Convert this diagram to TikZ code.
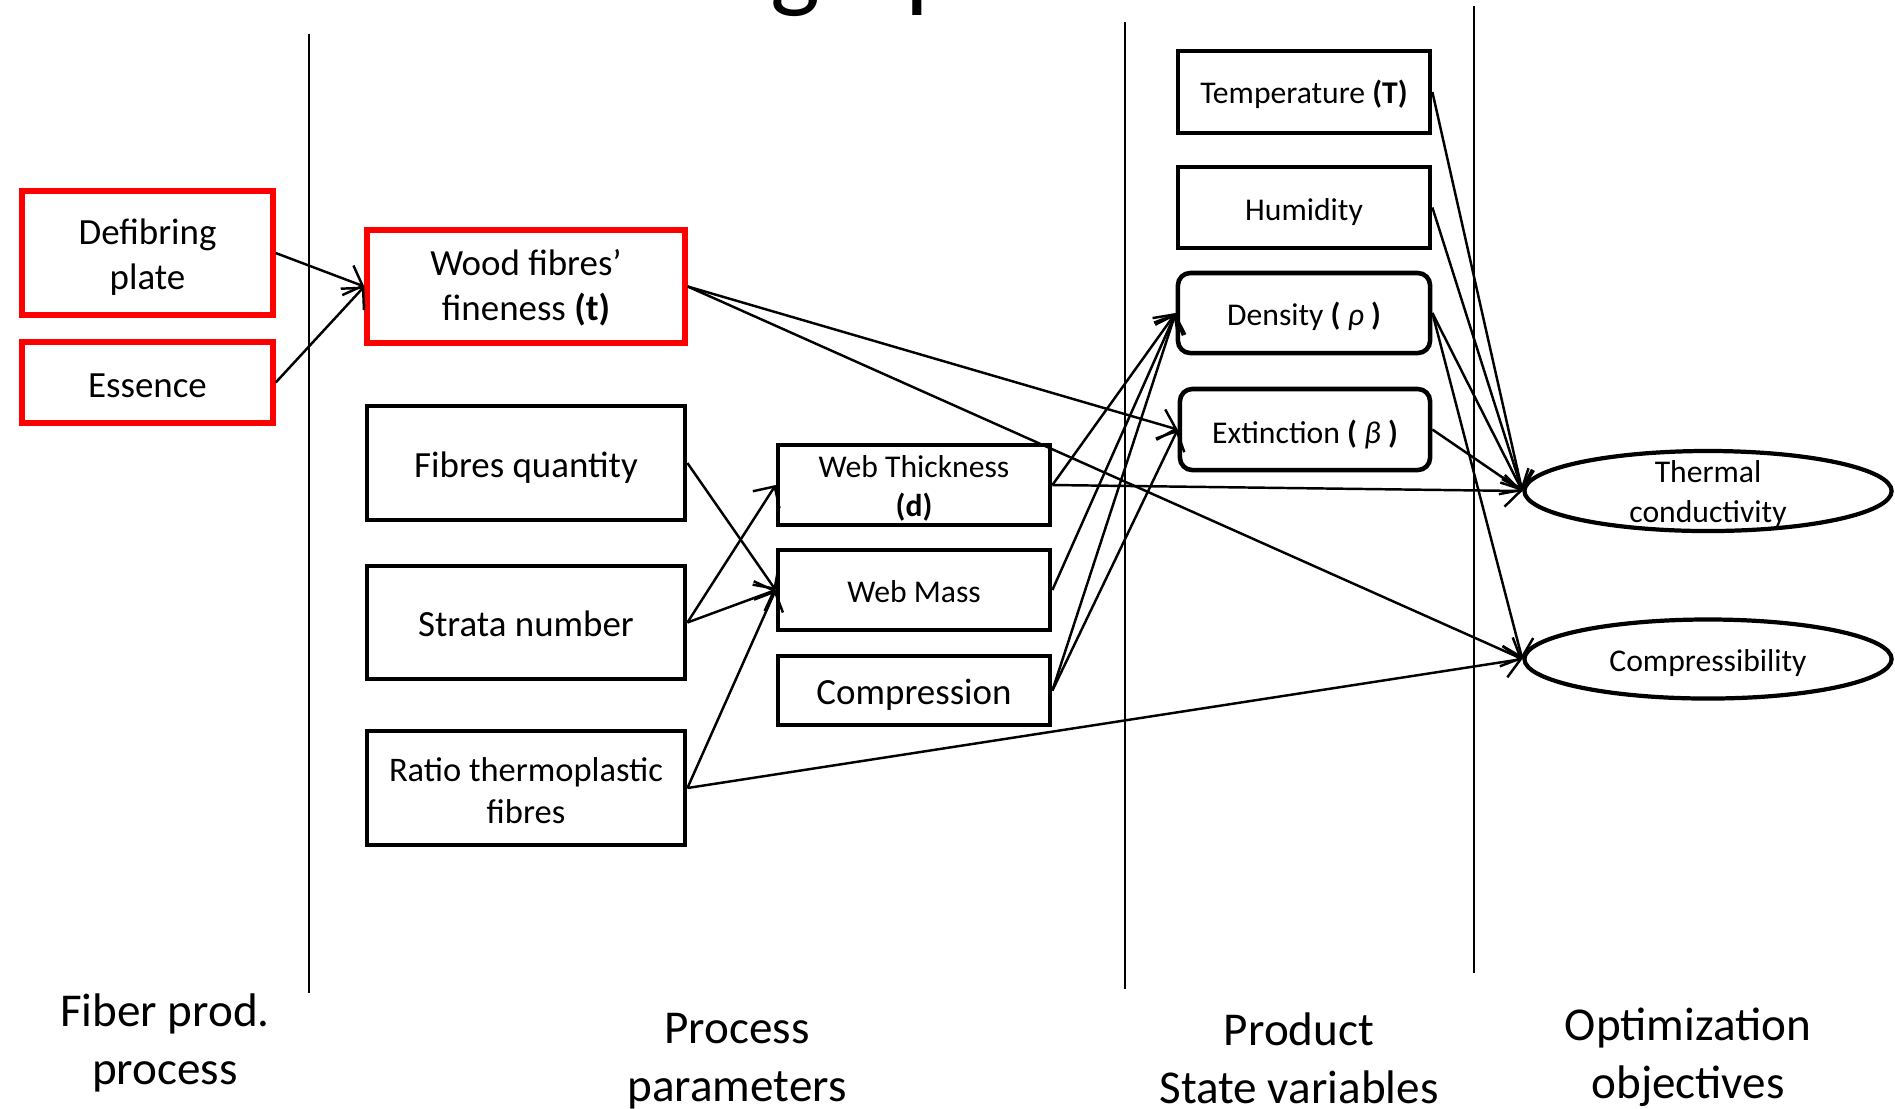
\documentclass[tikz,border=0pt]{standalone}
\usepackage{fontspec}
\setmainfont{Carlito}
\usetikzlibrary{arrows.meta,shapes.geometric}
\newcommand{\lowtxt}[2][1pt]{\raisebox{-#1}[\height][\depth]{\begin{tabular}{@{}c@{}}#2\end{tabular}}}
\tikzset{
  box/.style={draw, line width=1.3pt, inner sep=0pt, align=center, font=\fontsize{9}{11}\selectfont},
  bigbox/.style={box, font=\fontsize{10.5}{12.8}\selectfont},
  redbox/.style={bigbox, draw=red, line width=1.5pt},
  rbox/.style={box, rounded corners=3.5pt},
  oval/.style={ellipse, draw, line width=1.2pt, inner sep=-2.5mm, align=center, font=\fontsize{9}{11.2}\selectfont},
  arr/.style={-{Straight Barb[length=4.5pt,width=9pt]}, line width=0.7pt},
  sepline/.style={line width=0.5pt},
  lbl/.style={align=center, inner sep=0pt, font=\fontsize{13.4}{16.5}\selectfont}
}
\begin{document}
\begin{tikzpicture}[x=0.01cm,y=-0.01cm]
\useasboundingbox (0,0) rectangle (1895,1108);
\begin{scope}
\clip (0,0) rectangle (1895,1108);
\node[anchor=base west, inner sep=0pt, font=\fontsize{30}{36}\selectfont] (title) at (770,-2) {graph};
\end{scope}

% separators
\coordinate (s1a) at (309,34);  \coordinate (s1b) at (309,993);
\coordinate (s2a) at (1125,22); \coordinate (s2b) at (1125,989);
\coordinate (s3a) at (1474,6);  \coordinate (s3b) at (1474,973);
\draw[sepline] (s1a) -- (s1b);
\draw[sepline] (s2a) -- (s2b);
\draw[sepline] (s3a) -- (s3b);

% nodes
\node[redbox, minimum width=2.51cm, minimum height=1.24cm] (def) at (147.5,253) {\lowtxt[1.45pt]{Defibring\\plate}};
\node[redbox, minimum width=2.51cm, minimum height=0.81cm] (ess) at (147.5,382.5) {\lowtxt[1.7pt]{Essence}};
\node[redbox, minimum width=3.18cm, minimum height=1.13cm] (wood) at (526,286.5) {\lowtxt[0.75pt]{Wood fibres’\\fineness \textbf{(t)}}};
\node[bigbox, minimum width=3.18cm, minimum height=1.14cm] (fq) at (526,463) {\lowtxt[1.5pt]{Fibres quantity}};
\node[bigbox, minimum width=3.18cm, minimum height=1.13cm] (sn) at (526,622.5) {\lowtxt[1.4pt]{Strata number}};
\node[box, font=\fontsize{9.8}{11.8}\selectfont, minimum width=3.18cm, minimum height=1.14cm] (rt) at (526,788) {\lowtxt[1.7pt]{Ratio thermoplastic\\fibres}};
\node[box, minimum width=2.72cm, minimum height=0.80cm] (wt) at (914,485) {\lowtxt[1.2pt]{Web Thickness\\\textbf{(d)}}};
\node[box, minimum width=2.72cm, minimum height=0.80cm] (wm) at (914,590) {\lowtxt[1.4pt]{Web Mass}};
\node[bigbox, minimum width=2.72cm, minimum height=0.69cm] (cp) at (914,690.5) {\lowtxt[1.5pt]{Compression}};
\node[box, minimum width=2.52cm, minimum height=0.82cm] (temp) at (1304,92) {\lowtxt[1pt]{Temperature \textbf{(T)}}};
\node[box, minimum width=2.52cm, minimum height=0.81cm] (hum) at (1304,207.5) {\lowtxt[1.5pt]{Humidity}};
\node[rbox, minimum width=2.52cm, minimum height=0.80cm] (dens) at (1304,313) {\lowtxt[1.3pt]{Density \textbf{(} \textit{ρ} \textbf{)}}};
\node[rbox, minimum width=2.50cm, minimum height=0.81cm] (ext) at (1305,429.5) {\lowtxt[1.7pt]{Extinction \textbf{(} \textit{β} \textbf{)}}};
\node[oval, minimum width=3.67cm, minimum height=0.80cm] (tc) at (1708,491) {\lowtxt[1pt]{Thermal\\conductivity}};
\node[oval, minimum width=3.67cm, minimum height=0.79cm] (cmp) at (1708,659) {\lowtxt[1.3pt]{Compressibility}};

% labels
\node[lbl] (l1) at (165,1043) {Fiber prod.\\process};
\node[lbl] (l2) at (737,1061) {Process\\parameters};
\node[lbl] (l3) at (1299,1058) {Product\\State variables};
\node[lbl] (l4) at (1688,1057) {Optimization\\objectives};

% connectors
\draw[arr] (def.east) -- (wood.west);
\draw[arr] (ess.east) -- (wood.west);
\draw[arr] (wood.east) -- (ext.west);
\draw[arr] (wood.east) -- (cmp.west);
\draw[arr] (fq.east) -- (wm.west);
\draw[arr] (sn.east) -- (wt.west);
\draw[arr] (sn.east) -- (wm.west);
\draw[arr] (rt.east) -- (wm.west);
\draw[arr] (rt.east) -- (cmp.west);
\draw[arr] (wt.east) -- (dens.west);
\draw[arr] (wt.east) -- (tc.west);
\draw[arr] (wm.east) -- (dens.west);
\draw[arr] (cp.east) -- (dens.west);
\draw[arr] (cp.east) -- (ext.west);
\draw[arr] (temp.east) -- (tc.west);
\draw[arr] (hum.east) -- (tc.west);
\draw[arr] (dens.east) -- (tc.west);
\draw[arr] (dens.east) -- (cmp.west);
\draw[arr] (ext.east) -- (tc.west);
\end{tikzpicture}
\end{document}
